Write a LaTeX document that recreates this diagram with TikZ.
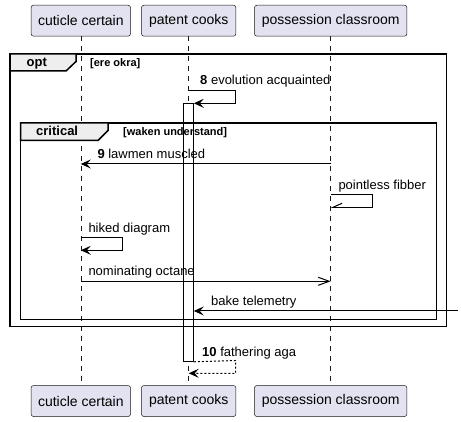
\documentclass[tikz,border=0pt]{standalone}
\usepackage{fontspec}
\setmainfont{Liberation Sans}
\usetikzlibrary{arrows.meta}
\definecolor{partfill}{HTML}{E2E2F0}
\definecolor{tabfill}{HTML}{EEEEEE}
\definecolor{lineclr}{HTML}{181818}
\begin{document}
\begin{tikzpicture}[x=1pt,y=-1pt,
  part/.style={draw=lineclr, line width=0.5pt, fill=partfill, rounded corners=2.5pt, inner sep=0pt,
    font=\fontsize{14}{16}\selectfont, minimum height=31pt},
  life/.style={draw=lineclr, line width=0.5pt, dash pattern=on 5pt off 5pt},
  msg/.style={draw=black, line width=1pt},
  fillarr/.style={-{Stealth[length=10pt,width=9pt,inset=4pt]}},
  openarr/.style={-{Straight Barb[length=11pt,width=8pt,line width=1pt]}},
  halfarr/.style={-{Straight Barb[length=9pt,width=8pt,right,line width=1pt]}},
  lbl/.style={anchor=base west, inner sep=0pt, font=\fontsize{13}{15}\selectfont},
  frm/.style={draw=black, line width=1.5pt},
  tabst/.style={fill=tabfill, draw=black, line width=1.5pt},
  tabtxt/.style={anchor=base west, inner sep=0pt, font=\bfseries\fontsize{13}{15}\selectfont},
  guard/.style={anchor=base west, inner sep=0pt, font=\bfseries\fontsize{11}{13}\selectfont},
  actst/.style={draw=black, line width=1pt, fill=white, inner sep=0pt}
]
\useasboundingbox (0,0) rectangle (461,422);

% participants
\node[part, minimum width=99.5pt] (p1t) at (80.8,20.7) {cuticle certain};
\node[part, minimum width=94.5pt] (p2t) at (188.7,20.7) {patent cooks};
\node[part, minimum width=152.5pt] (p3t) at (330.7,20.7) {possession classroom};
\node[part, minimum width=99.5pt] (p1b) at (80.8,401) {cuticle certain};
\node[part, minimum width=94.5pt] (p2b) at (188.7,401) {patent cooks};
\node[part, minimum width=152.5pt] (p3b) at (330.7,401) {possession classroom};

% lifelines
\draw[life] (p1t.south) -- (p1b.north);
\draw[life] (p2t.south) -- (p2b.north);
\draw[life] (p3t.south) -- (p3b.north);

% activation bar (under frames and texts)
\node[actst, minimum width=10pt, minimum height=257.5pt, anchor=north] (act) at (188.3,103.3) {};

% frames
\draw[frm] (10,54) rectangle (446.5,326.5);
\draw[tabst] (10,54) -- (76,54) -- (76,61.5) -- (66,71) -- (10,71) -- cycle;
\node[tabtxt] (optlbl) at (26.5,67) {opt};
\node[guard] (optg) at (90,66.5) {[ere okra]};

\draw[frm] (20.7,123) rectangle (436.3,319.5);
\draw[tabst] (20.7,123) -- (108,123) -- (108,130.5) -- (98,140.5) -- (20.7,140.5) -- cycle;
\node[tabtxt] (critlbl) at (36,136) {critical};
\node[guard] (critg) at (123,135.5) {[waken understand]};

% message 8
\coordinate (m8a) at (188.7,90.3);
\coordinate (m8b) at (235.7,90.3);
\coordinate (m8c) at (235.7,103.3);
\draw[msg, fillarr] (m8a) -- (m8b) -- (m8c) -- (act.north east);
\node[lbl] (l8) at (200,84.5) {\textbf{8} evolution acquainted};

% message 9
\coordinate (m9a) at (330.7,164);
\coordinate (m9b) at (80.8,164);
\draw[msg, fillarr] (m9a) -- (m9b);
\node[lbl] (l9) at (97.3,158.3) {\textbf{9} lawmen muscled};

% pointless fibber
\coordinate (pfa) at (330.7,194.3);
\coordinate (pfb) at (372.3,194.3);
\coordinate (pfc) at (372.3,207.3);
\coordinate (pfd) at (330.7,207.3);
\draw[msg, halfarr] (pfa) -- (pfb) -- (pfc) -- (pfd);
\node[lbl] (lpf) at (338.3,189.5) {pointless fibber};

% hiked diagram
\coordinate (hda) at (80.8,237.3);
\coordinate (hdb) at (122.7,237.3);
\coordinate (hdc) at (122.7,250.3);
\coordinate (hdd) at (80.8,250.3);
\draw[msg, fillarr] (hda) -- (hdb) -- (hdc) -- (hdd);
\node[lbl] (lhd) at (88.3,232.5) {hiked diagram};

% nominating octane
\coordinate (noa) at (80.8,281.3);
\coordinate (nob) at (330.7,281.3);
\draw[msg, openarr] (noa) -- (nob);
\node[lbl] (lno) at (88.3,275.5) {nominating octane};

% bake telemetry
\coordinate (bta) at (458,311);
\coordinate (btb) at (act.east |- bta);
\draw[msg, fillarr] (bta) -- (btb);
\node[lbl] (lbt) at (211,306) {bake telemetry};

% message 10 (return)
\coordinate (m10b) at (235.7,360.5);
\coordinate (m10c) at (235.7,373.3);
\coordinate (m10d) at (188.7,373.3);
\draw[msg, dash pattern=on 2pt off 2pt, fillarr] (act.south east) -- (m10b) -- (m10c) -- (m10d);
\node[lbl] (l10) at (202,356) {\textbf{10} fathering aga};
\end{tikzpicture}
\end{document}
